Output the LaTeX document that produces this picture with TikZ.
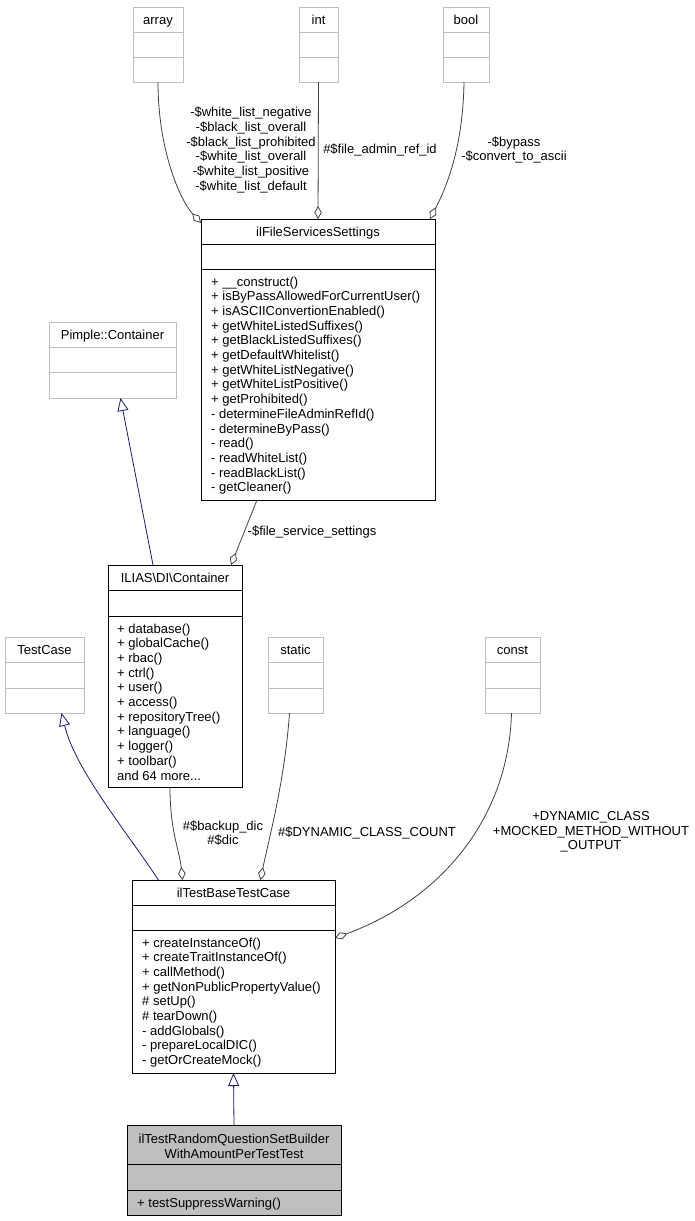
\documentclass[tikz,border=0pt]{standalone}
\usepackage{fontspec}
\setmainfont{Liberation Sans}
\usetikzlibrary{arrows.meta,calc}
\definecolor{edgegray}{HTML}{404040}
\definecolor{inhblue}{HTML}{191970}
\definecolor{extgray}{HTML}{BFBFBF}

\begin{document}
\begin{tikzpicture}[x=1pt,y=-1pt,
  font=\fontsize{13}{14.7}\selectfont,
  cls/.style={draw=black,line width=1pt,inner sep=0pt,outer sep=0pt,anchor=north west},
  ext/.style={draw=extgray,line width=1pt,inner sep=0pt,outer sep=0pt,anchor=north west},
  title/.style={anchor=base,inner sep=0pt,align=center},
  members/.style={anchor=base west,inner sep=0pt,align=left},
  lbl/.style={inner sep=0pt,align=center},
  agg/.style={draw=edgegray,line width=0.8pt,-{Diamond[open,length=13pt,width=7.5pt]}},
  inh/.style={draw=inhblue,line width=0.8pt,-{Triangle[open,length=13pt,width=11pt]}}]
\useasboundingbox (0,0) rectangle (695,1221);
%Typen
\node[ext,minimum width=50pt,minimum height=75pt] (arr) at (133,7) {};
\draw[extgray,line width=1pt] (133,32) -- (183,32) (133,57) -- (183,57);
\node[title] (arrT) at (158,24) {array};
\node[ext,minimum width=39pt,minimum height=75pt] (int) at (299,7) {};
\draw[extgray,line width=1pt] (299,32) -- (338,32) (299,57) -- (338,57);
\node[title] (intT) at (318.5,24) {int};
\node[ext,minimum width=46pt,minimum height=75pt] (bool) at (443,7) {};
\draw[extgray,line width=1pt] (443,32) -- (489,32) (443,57) -- (489,57);
\node[title] (boolT) at (466,24) {bool};
\node[ext,minimum width=127pt,minimum height=76pt] (pimple) at (49,322) {};
\draw[extgray,line width=1pt] (49,347) -- (176,347) (49,372) -- (176,372);
\node[title] (pimpleT) at (112.5,339) {Pimple::Container};
\node[ext,minimum width=79pt,minimum height=76pt] (tcase) at (5,637) {};
\draw[extgray,line width=1pt] (5,662) -- (84,662) (5,688) -- (84,688);
\node[title] (tcaseT) at (44.5,654) {TestCase};
\node[ext,minimum width=55pt,minimum height=76pt] (static) at (268,637) {};
\draw[extgray,line width=1pt] (268,662) -- (323,662) (268,688) -- (323,688);
\node[title] (staticT) at (295.5,654) {static};
\node[ext,minimum width=55pt,minimum height=76pt] (const) at (485,637) {};
\draw[extgray,line width=1pt] (485,662) -- (540,662) (485,688) -- (540,688);
\node[title] (constT) at (512.5,654) {const};
%Klassen
\node[cls,minimum width=234pt,minimum height=281pt] (fss) at (201,219) {};
\draw[line width=1pt] (201,244) -- (435,244) (201,269) -- (435,269);
\node[title] (fssT) at (318,236) {ilFileServicesSettings};
\node[members] (fssM) at (211,491.8) {+ \_\_construct()\\
+ isByPassAllowedForCurrentUser()\\
+ isASCIIConvertionEnabled()\\
+ getWhiteListedSuffixes()\\
+ getBlackListedSuffixes()\\
+ getDefaultWhitelist()\\
+ getWhiteListNegative()\\
+ getWhiteListPositive()\\
+ getProhibited()\\
- determineFileAdminRefId()\\
- determineByPass()\\
- read()\\
- readWhiteList()\\
- readBlackList()\\
- getCleaner()};
\node[cls,minimum width=134pt,minimum height=222pt] (ilias) at (108,565) {};
\draw[line width=1pt] (108,590) -- (242,590) (108,616) -- (242,616);
\node[title] (iliasT) at (175,582) {ILIAS\textbackslash DI\textbackslash Container};
\node[members] (iliasM) at (117,780) {+ database()\\
+ globalCache()\\
+ rbac()\\
+ ctrl()\\
+ user()\\
+ access()\\
+ repositoryTree()\\
+ language()\\
+ logger()\\
+ toolbar()\\
and 64 more...};
\node[cls,minimum width=203pt,minimum height=193pt] (itbtc) at (132,880) {};
\draw[line width=1pt] (132,905) -- (335,905) (132,930) -- (335,930);
\node[title] (itbtcT) at (233.5,897) {ilTestBaseTestCase};
\node[members] (itbtcM) at (142,1064.6) {+ createInstanceOf()\\
+ createTraitInstanceOf()\\
+ callMethod()\\
+ getNonPublicPropertyValue()\\
\# setUp()\\
\# tearDown()\\
- addGlobals()\\
- prepareLocalDIC()\\
- getOrCreateMock()};
\node[cls,fill=extgray,minimum width=214pt,minimum height=90pt] (itrqs) at (127,1125) {};
\draw[line width=1pt] (127,1164) -- (341,1164) (127,1190) -- (341,1190);
\node[title] (itrqsT) at (234,1158) {ilTestRandomQuestionSetBuilder\\WithAmountPerTestTest};
\node[members] (itrqsM) at (137,1207) {+ testSuppressWarning()};
%Kanten
\draw[agg] (arr.south) .. controls +(0,68) and +(-21,-23) .. ($(fss.north west)+(0,4)$);
\draw[agg] (int.south) -- (fss.north);
\draw[agg] ($(bool.south)+(-2,0)$) .. controls +(-1,68) and +(15,-29) .. ($(fss.north east)+(-5,0)$);
\draw[inh] ($(ilias.north)+(-22,0)$) -- ($(pimple.south)+(8,0)$);
\draw[agg] ($(fss.south)+(-61,0)$) -- ($(ilias.north)+(56,0)$);
\draw[inh] ($(itbtc.north)+(-75,0)$) .. controls +(-33,-50) and +(14,57) .. ($(tcase.south)+(17,0)$);
\draw[agg] ($(ilias.south)+(-5,0)$) .. controls +(0,45) and +(-3,-30) .. ($(itbtc.north)+(-51,0)$);
\draw[agg] ($(static.south)+(-6,0)$) .. controls +(-5,70) and +(8,-40) .. ($(itbtc.north)+(27,0)$);
\draw[agg] ($(const.south)+(-1,0)$) .. controls +(-3,107) and +(104,-38) .. ($(itbtc.north east)+(0,58)$);
\draw[inh] (itrqs.north) -- (itbtc.south);
%Text
\node[lbl] (arrL) at (251,150) {-\$white\_list\_negative\\
-\$black\_list\_overall\\
-\$black\_list\_prohibited\\
-\$white\_list\_overall\\
-\$white\_list\_positive\\
-\$white\_list\_default};
\node[lbl] (intL) at (380,150) {\#\$file\_admin\_ref\_id};
\node[lbl] (boolL) at (514,150) {-\$bypass\\-\$convert\_to\_ascii};
\node[lbl] (fssL) at (312,532) {-\$file\_service\_settings};
\node[lbl] (iliasL) at (223,833) {\#\$backup\_dic\\\#\$dic};
\node[lbl] (staticL) at (367,833) {\#\$DYNAMIC\_CLASS\_COUNT};
\node[lbl] (constL) at (591,832) {+DYNAMIC\_CLASS\\+MOCKED\_METHOD\_WITHOUT\\\_OUTPUT};
\end{tikzpicture}
\end{document}
